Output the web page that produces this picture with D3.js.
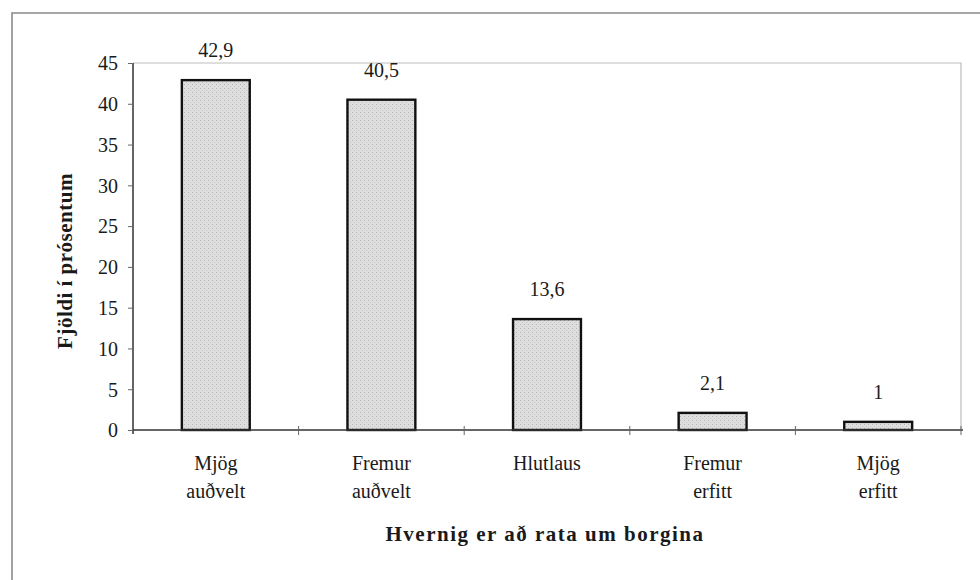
<!DOCTYPE html>
<html>
<head>
<meta charset="utf-8">
<script src="https://cdn.jsdelivr.net/npm/d3@7/dist/d3.min.js"></script>
<style>
  html, body { margin: 0; padding: 0; background: #fff; }
  svg { display: block; }
  text { font-family: "Liberation Serif", "DejaVu Serif", serif; fill: #1a1a1a; }
</style>
</head>
<body>
<svg id="chart" width="980" height="580"></svg>
<script>
// ---- data ----
const categories = [["Mjög", "auðvelt"], ["Fremur", "auðvelt"], ["Hlutlaus"], ["Fremur", "erfitt"], ["Mjög", "erfitt"]];
const values = [42.9, 40.5, 13.6, 2.1, 1];
const yTicks = [0, 5, 10, 15, 20, 25, 30, 35, 40, 45];
const xTitle = "Hvernig er að rata um borgina";
const yTitle = "Fjöldi í prósentum";

(function () {
const svg = d3.select("#chart");
const pL = 133, pR = 961, pT = 63, pB = 430;

// outer frame
svg.append("path")
  .attr("d", `M12,580 L12,13 L980,13`)
  .attr("fill", "none").attr("stroke", "#8a8a8a").attr("stroke-width", 1.6);

// pattern for bars
const defs = svg.append("defs");
const pat = defs.append("pattern").attr("id", "stip")
  .attr("patternUnits", "userSpaceOnUse").attr("width", 4).attr("height", 4);
pat.append("rect").attr("width", 4).attr("height", 4).attr("fill", "#dedede");
pat.append("rect").attr("x", 0).attr("y", 0).attr("width", 1).attr("height", 1).attr("fill", "#b4b4b4");
pat.append("rect").attr("x", 2).attr("y", 2).attr("width", 1).attr("height", 1).attr("fill", "#c4c4c4");

const idx = categories.map((d, i) => i);
const x = d3.scaleBand().domain(idx).range([pL, pR]).paddingInner(0.59).paddingOuter(0.295);
const xb = d3.scaleBand().domain(idx).range([pL, pR]);
const y = d3.scaleLinear().domain([0, 45]).range([pB, pT]);

// plot-area border (light)
svg.append("path")
  .attr("d", `M${pL},${pT} L${pR},${pT} L${pR},${pB}`)
  .attr("fill", "none").attr("stroke", "#bdbdbd").attr("stroke-width", 1.2);

// bars
svg.append("g").selectAll("rect").data(values).join("rect")
  .attr("x", (d, i) => x(i))
  .attr("y", d => y(d))
  .attr("width", x.bandwidth())
  .attr("height", d => y(0) - y(d))
  .attr("fill", "url(#stip)")
  .attr("stroke", "#111").attr("stroke-width", 2.4);

// value labels
svg.append("g").selectAll("text").data(values).join("text")
  .attr("x", (d, i) => x(i) + x.bandwidth() / 2)
  .attr("y", d => y(d) - 23)
  .attr("text-anchor", "middle")
  .attr("font-size", 20)
  .text(d => String(d).replace(".", ","));

// y axis
const yAxis = d3.axisLeft(y).tickValues(yTicks).tickSize(5).tickPadding(10).tickFormat(d3.format("d"));
const gy = svg.append("g").attr("transform", `translate(${pL},0)`).call(yAxis);
gy.select(".domain").attr("stroke", "#333").attr("stroke-width", 1.5).attr("d", `M0,${pB + 4}V${pT}`);
gy.selectAll(".tick line").attr("stroke", "#666").attr("stroke-width", 1);
gy.selectAll(".tick text").attr("font-size", 20).attr("font-family", "Liberation Serif, serif").attr("fill", "#1a1a1a").attr("dy", "0.34em");

// x axis line
svg.append("line").attr("x1", pL).attr("x2", pR + 2).attr("y1", pB).attr("y2", pB)
  .attr("stroke", "#333").attr("stroke-width", 1.5);
// x ticks at band boundaries
const bounds = idx.slice(1).map(i => xb(i)).concat([pR]);
svg.append("g").selectAll("line").data(bounds).join("line")
  .attr("x1", d => d).attr("x2", d => d)
  .attr("y1", pB - 4).attr("y2", pB + 5)
  .attr("stroke", "#666").attr("stroke-width", 1);

// category labels
const cl = svg.append("g").selectAll("text").data(categories).join("text")
  .attr("x", (d, i) => xb(i) + xb.bandwidth() / 2)
  .attr("y", 470)
  .attr("text-anchor", "middle")
  .attr("font-size", 20);
cl.selectAll("tspan").data(d => d).join("tspan")
  .attr("x", function () { return d3.select(this.parentNode).attr("x"); })
  .attr("dy", (d, i) => i === 0 ? 0 : 28)
  .text(d => d);

// axis titles
svg.append("text")
  .attr("x", (pL + pR) / 2 - 2).attr("y", 541)
  .attr("text-anchor", "middle")
  .attr("font-size", 21).attr("font-weight", "bold")
  .attr("letter-spacing", 1.5)
  .attr("fill", "#222")
  .text(xTitle);

svg.append("text")
  .attr("transform", `translate(72,261) rotate(-90)`)
  .attr("text-anchor", "middle")
  .attr("font-size", 21).attr("font-weight", "bold")
  .attr("letter-spacing", 0.5)
  .attr("fill", "#222")
  .text(yTitle);
})();
</script>
</body>
</html>
